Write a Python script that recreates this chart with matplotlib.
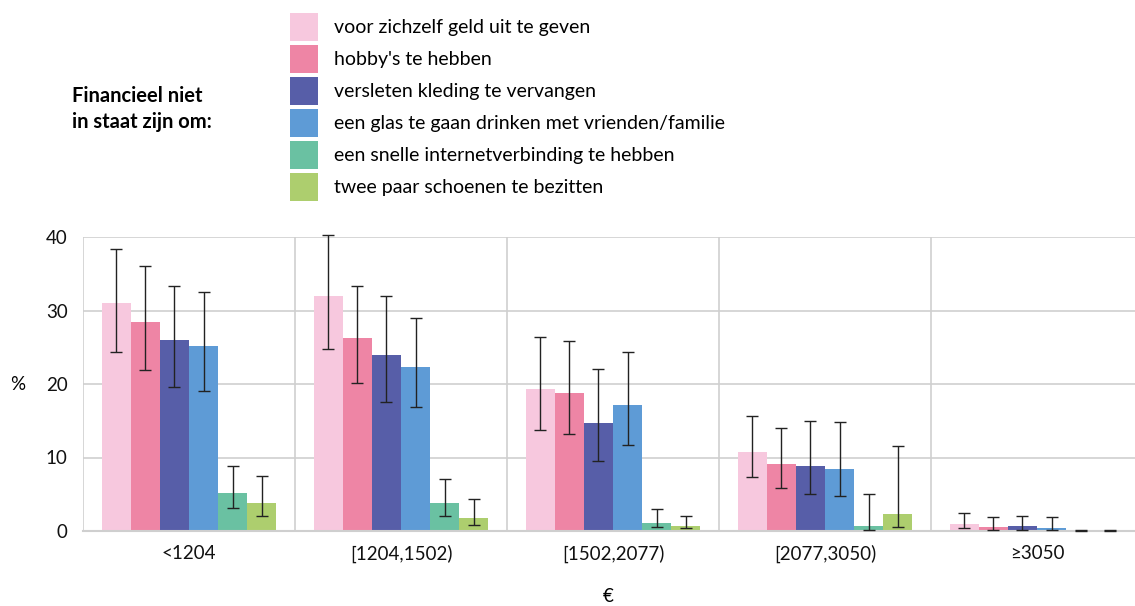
import numpy as np
import matplotlib.pyplot as plt
from matplotlib.ticker import FixedLocator

plt.rcParams['font.family'] = ['Lato', 'DejaVu Sans']

# -----------------------------
# Data
# -----------------------------
groups = ["<1204", "[1204,1502)", "[1502,2077)", "[2077,3050)", "≥3050"]

labels = [
    "voor zichzelf geld uit te geven",
    "hobby's te hebben",
    "versleten kleding te vervangen",
    "een glas te gaan drinken met vrienden/familie",
    "een snelle internetverbinding te hebben",
    "twee paar schoenen te bezitten",
]

colors = ["#F7C8DE", "#EE85A5", "#575EA8", "#5E9BD6", "#6AC1A2", "#ADCE6E"]

geld = [31.0, 32.0, 19.3, 10.7, 1.0]
geld_lo = [24.4, 24.7, 13.7, 7.3, 0.4]
geld_hi = [38.4, 40.3, 26.4, 15.7, 2.5]

hobby = [28.4, 26.3, 18.8, 9.1, 0.5]
hobby_lo = [21.9, 20.2, 13.2, 5.9, 0.1]
hobby_hi = [36.0, 33.4, 25.9, 14.0, 1.9]

kleding = [26.0, 23.9, 14.7, 8.8, 0.7]
kleding_lo = [19.6, 17.5, 9.5, 5.1, 0.2]
kleding_hi = [33.4, 32.0, 22.1, 14.9, 2.1]

glas = [25.2, 22.3, 17.1, 8.4, 0.4]
glas_lo = [19.1, 16.9, 11.7, 4.7, 0.1]
glas_hi = [32.5, 29.0, 24.3, 14.8, 1.9]

internet = [5.2, 3.8, 1.1, 0.7, 0.05]
internet_lo = [3.1, 2.1, 0.5, 0.1, 0.0]
internet_hi = [8.8, 7.1, 3.0, 5.0, 0.1]

schoenen = [3.8, 1.8, 0.7, 2.3, 0.05]
schoenen_lo = [2.1, 0.8, 0.4, 0.5, 0.0]
schoenen_hi = [7.5, 4.4, 2.1, 11.5, 0.1]

series = [
    (geld, geld_lo, geld_hi),
    (hobby, hobby_lo, hobby_hi),
    (kleding, kleding_lo, kleding_hi),
    (glas, glas_lo, glas_hi),
    (internet, internet_lo, internet_hi),
    (schoenen, schoenen_lo, schoenen_hi),
]

# -----------------------------
# Plot
# -----------------------------
fig = plt.figure(figsize=(11.35, 6.06), dpi=100)
W, H = 1135, 606
ax = fig.add_axes([83 / W, 1 - 531 / H, (1135 - 83) / W, (531 - 237) / H])

x = np.arange(len(groups))
bw = 0.137
handles = []
for i, ((vals, lo, hi), c, lab) in enumerate(zip(series, colors, labels)):
    vals = np.array(vals)
    pos = x + (i - 2.5) * bw
    yerr = [vals - np.array(lo), np.array(hi) - vals]
    b = ax.bar(pos, vals, width=bw, color=c, label=lab, zorder=2)
    ax.errorbar(pos, vals, yerr=yerr, fmt="none", ecolor="#222222",
                elinewidth=1, capsize=4, capthick=1, zorder=3, clip_on=False)
    handles.append(b)

ax.set_ylim(0, 40)
ax.set_xlim(-0.5, -0.5 + (1135 - 83) / 212)
ax.set_yticks([0, 10, 20, 30, 40])
ax.set_xticks(x)
ax.set_xticklabels(groups)
ax.xaxis.set_minor_locator(FixedLocator(np.arange(-0.5, 5, 1)))
ax.tick_params(axis="both", which="both", length=0, labelsize=13.5, colors="#111111")
ax.tick_params(axis="x", pad=10)
ax.tick_params(axis="y", pad=11)
ax.grid(axis="y", which="major", color="#CFCFCF", linewidth=1.2, zorder=0)
ax.grid(axis="x", which="minor", color="#CFCFCF", linewidth=1.2, zorder=0)
ax.set_axisbelow(True)
for s in ax.spines.values():
    s.set_visible(False)
ax.spines["bottom"].set_visible(True)
ax.spines["bottom"].set_color("#CFCFCF")
ax.spines["bottom"].set_linewidth(1.5)

fig.text(18 / W, 1 - 384 / H, "%", fontsize=13.5, ha="center", va="center")
fig.text(608 / W, 1 - 596 / H, "€", fontsize=13.5, ha="center", va="center")
fig.text(72 / W, 1 - 109 / H, "Financieel niet\nin staat zijn om:", fontsize=14.5,
         fontweight="bold", ha="left", va="center", linespacing=1.35)

fig.legend(handles=handles, labels=labels, loc="upper left",
           bbox_to_anchor=(290 / W, 1 - 13 / H), frameon=False, fontsize=14,
           handlelength=1.42, handleheight=1.85, handletextpad=0.85,
           labelspacing=0.2, borderaxespad=0, borderpad=0)

fig.savefig("out.png", dpi=100)
